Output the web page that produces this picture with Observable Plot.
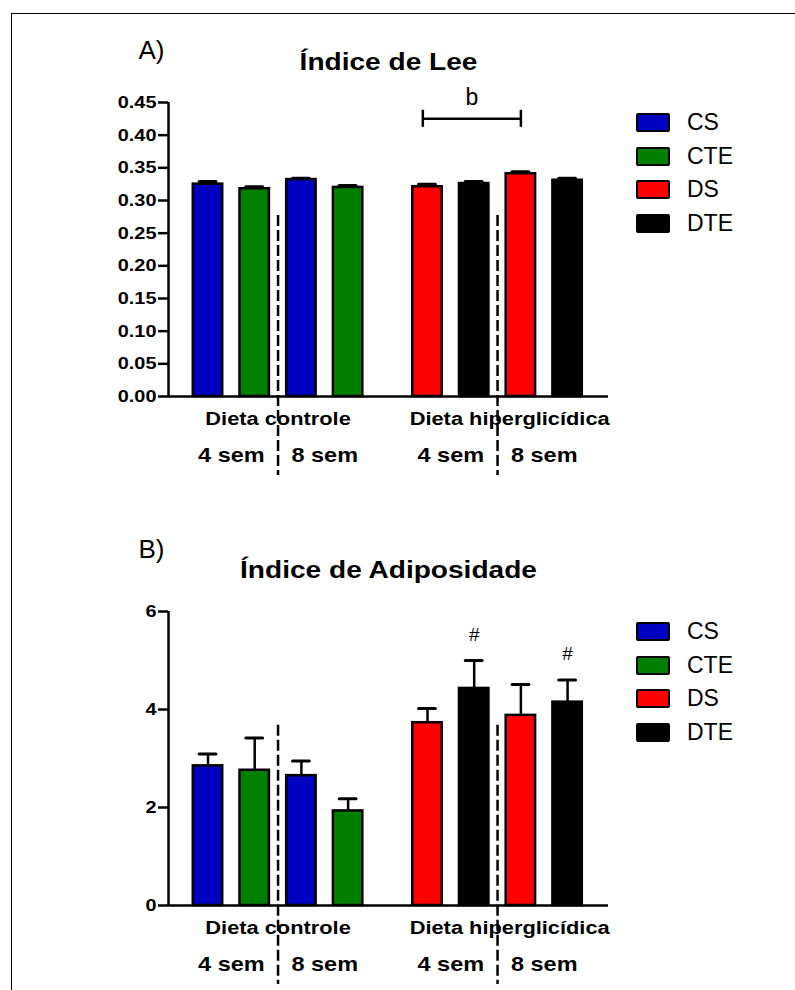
<!DOCTYPE html>
<html><head><meta charset="utf-8">
<script src="https://cdn.jsdelivr.net/npm/d3@7"></script>
<script src="https://cdn.jsdelivr.net/npm/@observablehq/plot@0.6"></script>
<style>
html,body{margin:0;padding:0;background:#fff;overflow:hidden;}
#page{position:relative;width:795px;height:990px;font-family:"Liberation Sans",Arial,sans-serif;overflow:hidden;}
#frame{position:absolute;left:11px;top:13px;right:-5px;bottom:-5px;border-top:1.5px solid #000;border-left:1.5px solid #000;}
.panel{position:absolute;left:0;}
.legend{position:absolute;left:636px;}
.row{position:relative;height:33.5px;}
.sw{position:absolute;left:0;top:0;width:34px;height:19px;box-sizing:border-box;border:2.5px solid #000;border-radius:2px;}
.lab{position:absolute;left:51px;top:-4px;font-size:23px;line-height:27px;white-space:nowrap;}
</style></head>
<body><div id="page"><div id="frame"></div></div>
<script>
// ---- data ----
const groups = ["CS", "CTE", "DS", "DTE"];
const colors = ["#0000C0", "#007F00", "#FF0000", "#000000"];
const diets = ["Dieta controle", "Dieta hiperglicídica"];
const weeks = ["4 sem", "8 sem"];
const barGroup = ["CS", "CTE", "CS", "CTE", "DS", "DTE", "DS", "DTE"];
const barDiet = [0, 0, 0, 0, 1, 1, 1, 1];
const barWeek = [0, 0, 1, 1, 0, 0, 1, 1];
const leeMean = [0.325, 0.318, 0.332, 0.320, 0.321, 0.326, 0.341, 0.331];
const leeSem = [0.004, 0.003, 0.002, 0.003, 0.004, 0.003, 0.003, 0.003];
const leeTicks = [0, 0.05, 0.10, 0.15, 0.20, 0.25, 0.30, 0.35, 0.40, 0.45];
const adipMean = [2.85, 2.76, 2.65, 1.93, 3.73, 4.43, 3.88, 4.15];
const adipSem = [0.24, 0.66, 0.30, 0.25, 0.29, 0.57, 0.63, 0.45];
const adipTicks = [0, 2, 4, 6];
const adipMarks = ["", "", "", "", "", "#", "", "#"];
const leeBracketLabel = "b";
const leeBracketLevel = 0.425;
const leeBracketBars = [4, 6];
const titles = ["Índice de Lee", "Índice de Adiposidade"];
const tags = ["A)", "B)"];

// ---- layout ----
const FONT = '"Liberation Sans", Arial, sans-serif';
const pos = barDiet.map((d, i) => i + d * 0.7);
const xDomain = [-0.846, 8.576];
const halfBar = 0.315, halfCap = 0.18;
const dashPos = [(pos[1] + pos[2]) / 2, (pos[5] + pos[6]) / 2];
const groupMid = [0, 1].map(g => d3.mean(pos.filter((p, i) => barDiet[i] === g)));
const weekLabels = [];
diets.forEach((dt, g) => weeks.forEach((w, k) => {
  weekLabels.push({text: w, x: d3.mean(pos.filter((p, i) => barDiet[i] === g && barWeek[i] === k))});
}));
const FS = {tick: 17, group: 18.5, week: 21, title: 24};
const SX = {tick: 1.17, group: 1.18, week: 1.12, title: 1.17};

function stretchTexts(nodes, sx) {
  nodes.forEach(t => {
    let tr = t.getAttribute("transform") || "";
    const xa = t.getAttribute("x");
    if (xa != null && xa !== "" && !isNaN(+xa)) { tr += ` translate(${+xa},0)`; t.removeAttribute("x"); }
    t.setAttribute("transform", `${tr} scale(${sx},1)`);
  });
}
function stretch(svg) {
  svg.querySelectorAll('g[aria-label="y-axis tick label"]').forEach(g => {
    g.setAttribute("font-weight", "bold");
    stretchTexts(g.querySelectorAll("text"), SX.tick);
  });
  for (const k of ["group", "week", "title"]) {
    svg.querySelectorAll(`g[font-size="${FS[k]}"]`).forEach(g => stretchTexts(g.querySelectorAll("text"), SX[k]));
  }
}

function panel(o) {
  const data = o.mean.map((m, i) => ({pos: pos[i], m, s: o.sem[i], g: barGroup[i], mark: o.marks ? o.marks[i] : ""}));
  const ppu = (o.height - o.mTop - o.mBottom) / o.yMax;
  const below = px => -px / ppu;
  const marks = [
    Plot.ruleX(data, {x: "pos", y1: "m", y2: d => d.m + d.s, stroke: "#000", strokeWidth: 2.5}),
    Plot.ruleY(data, {x1: d => d.pos - halfCap, x2: d => d.pos + halfCap, y: d => d.m + d.s, stroke: "#000", strokeWidth: 3, strokeLinecap: "round"}),
    Plot.rect(data, {x1: d => d.pos - halfBar, x2: d => d.pos + halfBar, y1: () => 0, y2: "m", fill: "g", stroke: "#000", strokeWidth: 2.5}),
    Plot.ruleX(dashPos, {x: d => d, y1: () => o.dashTop, y2: () => below(79), stroke: "#000", strokeWidth: 2.5, strokeDasharray: "11,4"}),
    Plot.ruleX([xDomain[0]], {y1: () => 0, y2: () => o.yMax, stroke: "#000", strokeWidth: 2.5}),
    Plot.ruleY([0], {stroke: "#000", strokeWidth: 2.5}),
    Plot.axisY({ticks: o.ticks, tickFormat: o.fmt, tickSize: 10, tickPadding: 2, fontSize: FS.tick, fontWeight: "bold", strokeWidth: 2.5, anchor: "left", color: "#000", label: null}),
    Plot.text(diets, {x: (d, i) => groupMid[i] + (i ? 0.26 : 0), y: () => 0, text: d => d, dy: 23, fontSize: FS.group, fontWeight: "bold", fill: "#000"}),
    Plot.text(weekLabels, {x: "x", y: () => 0, text: "text", dy: 59, fontSize: FS.week, fontWeight: "bold", fill: "#000"}),
    Plot.text([o.title], {frameAnchor: "top", lineAnchor: "middle", dy: o.titleDy, fontSize: FS.title, fontWeight: "bold", fill: "#000"}),
    Plot.text([o.tag], {frameAnchor: "top-left", lineAnchor: "middle", dx: -30, dy: o.tagDy, textAnchor: "start", fontSize: 26, fill: "#000"})
  ];
  if (o.marks) {
    marks.push(Plot.text(data.filter(d => d.mark), {x: "pos", y: d => d.m + d.s, text: "mark", dy: -26, fontSize: 19, fill: "#000"}));
  }
  if (o.bracket) {
    const [a, b] = o.bracket.bars;
    const x1 = pos[a] - 0.1, x2 = pos[b];
    const h = 8.5 / ppu;
    marks.push(
      Plot.ruleY([o.bracket.level], {x1: () => x1, x2: () => x2, y: d => d, stroke: "#000", strokeWidth: 2.5}),
      Plot.ruleX([x1, x2], {x: d => d, y1: () => o.bracket.level - h, y2: () => o.bracket.level + h, stroke: "#000", strokeWidth: 2.5}),
      Plot.text([o.bracket.label], {x: () => (x1 + x2) / 2, y: () => o.bracket.level, text: d => d, dy: -21.6, fontSize: 23, fill: "#000"})
    );
  }
  const svg = Plot.plot({
    width: 795, height: o.height,
    marginLeft: 168, marginRight: 187, marginTop: o.mTop, marginBottom: o.mBottom,
    style: {fontFamily: FONT, background: "transparent", color: "#000", overflow: "visible"},
    x: {domain: xDomain, axis: null},
    y: {domain: [0, o.yMax], label: null},
    color: {domain: groups, range: colors},
    marks
  });
  stretch(svg);
  const wrap = document.createElement("div");
  wrap.className = "panel";
  wrap.style.top = o.top + "px";
  wrap.appendChild(svg);
  document.getElementById("page").appendChild(wrap);

  const lg = document.createElement("div");
  lg.className = "legend";
  lg.style.top = o.legendTop + "px";
  groups.forEach((g, i) => {
    const r = document.createElement("div"); r.className = "row";
    const s = document.createElement("div"); s.className = "sw"; s.style.background = colors[i];
    const t = document.createElement("div"); t.className = "lab"; t.textContent = g;
    r.appendChild(s); r.appendChild(t); lg.appendChild(r);
  });
  document.getElementById("page").appendChild(lg);
}

panel({
  mean: leeMean, sem: leeSem, ticks: leeTicks, fmt: d3.format(".2f"), yMax: 0.45,
  dashTop: 0.277, title: titles[0], tag: tags[0],
  top: 0, height: 500, mTop: 102, mBottom: 104, titleDy: -40.5, tagDy: -52,
  legendTop: 113,
  bracket: {bars: leeBracketBars, level: leeBracketLevel, label: leeBracketLabel}
});
panel({
  mean: adipMean, sem: adipSem, ticks: adipTicks, fmt: d3.format("d"), yMax: 6,
  dashTop: 3.68, title: titles[1], tag: tags[1], marks: adipMarks,
  top: 500, height: 490, mTop: 111, mBottom: 85, titleDy: -41, tagDy: -62,
  legendTop: 622
});
</script></body></html>
